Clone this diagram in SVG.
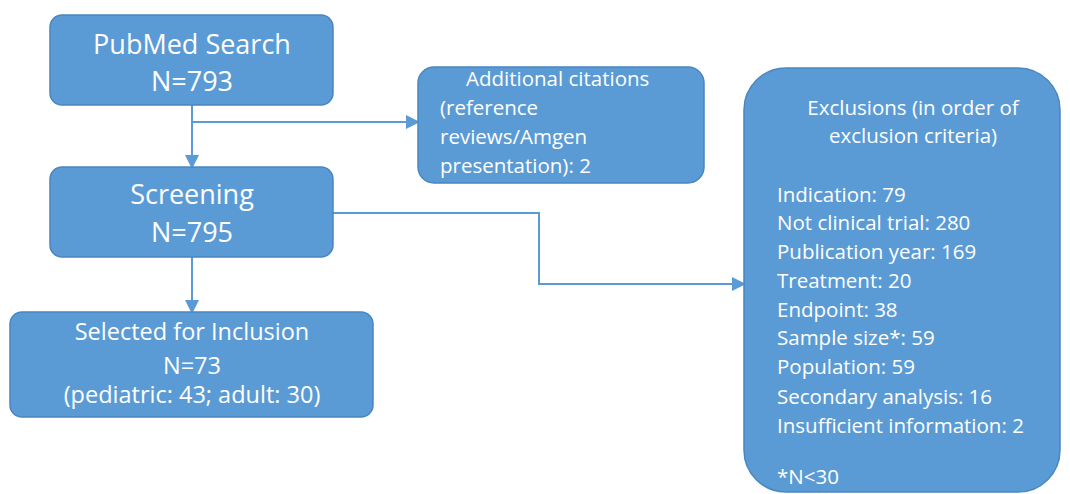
<svg xmlns="http://www.w3.org/2000/svg" width="1070" height="494" viewBox="0 0 1070 494">
<style>
.box{fill:#5b9bd5;stroke:#4a86c0;stroke-width:1.5}
.t{font-family:"Open Sans",sans-serif;fill:#ffffff;font-weight:400}
.big{font-size:27px}
.mid{font-size:23.5px}
.sm{font-size:20.5px}
.c{text-anchor:middle}
.ln{fill:none;stroke:#5b9bd5;stroke-width:2}
</style>
<defs>
<marker id="ah" markerWidth="14" markerHeight="14" refX="12" refY="7" orient="auto" markerUnits="userSpaceOnUse">
<path d="M0,0 L14,7 L0,14 Z" fill="#5b9bd5"/>
</marker>
</defs>
<rect width="1070" height="494" fill="#ffffff"/>
<g id="connectors">
<line class="ln" x1="192" y1="105" x2="192" y2="167" marker-end="url(#ah)"/>
<line class="ln" x1="192" y1="122" x2="418" y2="122" marker-end="url(#ah)"/>
<line class="ln" x1="192" y1="257" x2="192" y2="312" marker-end="url(#ah)"/>
<polyline class="ln" points="333,213 539,213 539,284 744,284" marker-end="url(#ah)"/>
</g>
<g id="pubmed">
<rect class="box" x="50" y="15" width="283" height="90" rx="12"/>
<text class="t big c" x="192" y="54">PubMed Search</text>
<text class="t big c" x="192" y="91">N=793</text>
</g>
<g id="screening">
<rect class="box" x="50" y="167" width="283" height="90" rx="12"/>
<text class="t big c" x="192" y="204">Screening</text>
<text class="t big c" x="192" y="242">N=795</text>
</g>
<g id="selected">
<rect class="box" x="10" y="312" width="363" height="105" rx="12"/>
<text class="t mid c" x="192" y="340">Selected for Inclusion</text>
<text class="t mid c" x="192" y="374">N=73</text>
<text class="t mid c" x="192" y="403">(pediatric: 43; adult: 30)</text>
</g>
<g id="additional">
<rect class="box" x="418" y="67" width="286" height="116" rx="16"/>
<text class="t sm" x="466" y="86">Additional citations</text>
<text class="t sm" x="440" y="115">(reference</text>
<text class="t sm" x="440" y="144">reviews/Amgen</text>
<text class="t sm" x="440" y="173">presentation): 2</text>
</g>
<g id="exclusions">
<rect class="box" x="744" y="68" width="316" height="424" rx="42"/>
<text class="t sm c" x="913" y="115">Exclusions (in order of</text>
<text class="t sm c" x="913" y="143">exclusion criteria)</text>
<text class="t sm" x="777" y="202">Indication: 79</text>
<text class="t sm" x="777" y="230">Not clinical trial: 280</text>
<text class="t sm" x="777" y="259">Publication year: 169</text>
<text class="t sm" x="777" y="288">Treatment: 20</text>
<text class="t sm" x="777" y="317">Endpoint: 38</text>
<text class="t sm" x="777" y="345">Sample size*: 59</text>
<text class="t sm" x="777" y="374">Population: 59</text>
<text class="t sm" x="777" y="404">Secondary analysis: 16</text>
<text class="t sm" x="777" y="433">Insufficient information: 2</text>
<text class="t sm" x="777" y="484">*N&lt;30</text>
</g>
</svg>
